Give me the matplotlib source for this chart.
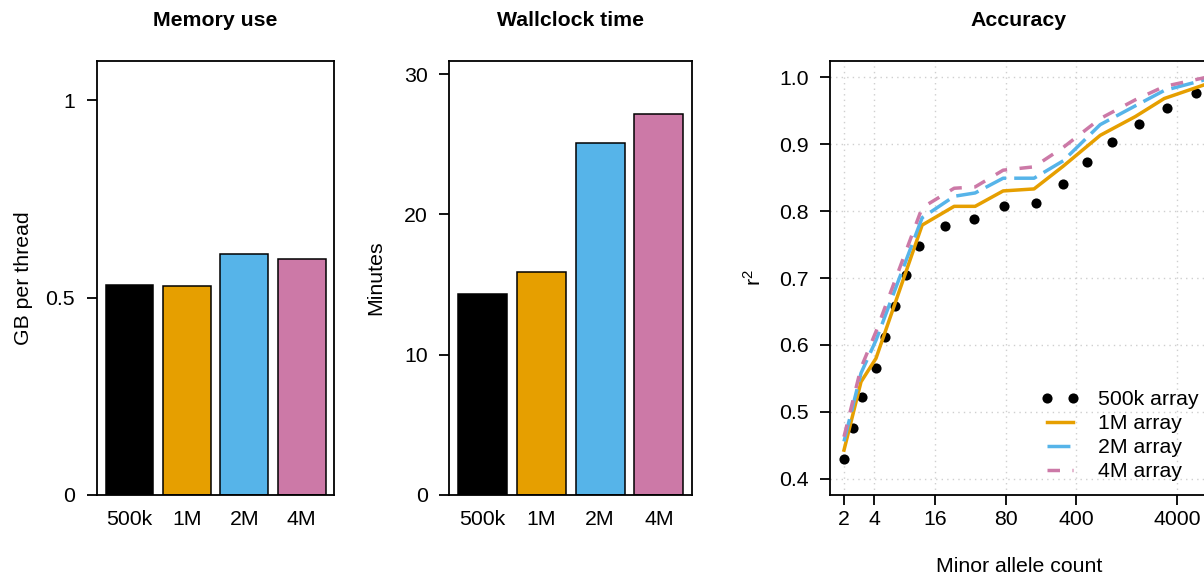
import matplotlib
matplotlib.use('Agg')
import matplotlib.pyplot as plt
from matplotlib.ticker import FixedLocator, NullLocator

plt.rcParams['font.family'] = ['Liberation Sans', 'DejaVu Sans']
plt.rcParams['mathtext.default'] = 'regular'

# ---------------- data ----------------
arrays = ['500k', '1M', '2M', '4M']
colors = ['#000000', '#E69F00', '#56B4E9', '#CC79A7']
memory_gb = [0.531, 0.529, 0.610, 0.599]
wallclock_min = [14.32, 15.87, 25.07, 27.14]

# Accuracy panel: 500k array (points)
mac_500k = [2, 2.47, 3.02, 4.15, 5.1, 6.37, 8.24, 11.2, 19.9, 39.2, 77.8,
            160.6, 293, 509, 912, 1690, 3206, 6220]
r2_500k = [0.430, 0.476, 0.5225, 0.566, 0.6125, 0.658, 0.704, 0.7475, 0.777,
           0.788, 0.807, 0.812, 0.841, 0.873, 0.903, 0.930, 0.954, 0.9756]

# Accuracy panel: 1M/2M/4M arrays (lines)
mac_lines = [2, 2.95, 4.15, 11.9, 24.7, 39.9, 75.6, 153, 298, 693, 1542, 2990, 7990]
r2_1M = [0.443, 0.545, 0.580, 0.779, 0.807, 0.807, 0.830, 0.833, 0.867, 0.913, 0.941, 0.968, 0.990]
r2_2M = [0.456, 0.558, 0.607, 0.790, 0.822, 0.827, 0.849, 0.849, 0.875, 0.929, 0.957, 0.980, 0.997]
r2_4M = [0.463, 0.566, 0.620, 0.805, 0.834, 0.836, 0.861, 0.866, 0.895, 0.938, 0.966, 0.986, 1.000]

x_ticks = [2, 4, 16, 80, 400, 4000]
y_ticks_acc = [0.4, 0.5, 0.6, 0.7, 0.8, 0.9, 1.0]

# ---------------- layout ----------------
W, H = 1204, 577
FS = 15.3
fig = plt.figure(figsize=(W / 100, H / 100), dpi=100)


def rect(l, r, t=61, b=495):
    return [l / W, 1 - b / H, (r - l) / W, (b - t) / H]


ax1 = fig.add_axes(rect(96.7, 334.3))
ax2 = fig.add_axes(rect(449.3, 692.3))
ax3 = fig.add_axes(rect(830, 1208))

for ax in (ax1, ax2, ax3):
    for s in ax.spines.values():
        s.set_linewidth(1.3)
    ax.tick_params(axis='y', labelsize=FS, length=7.5, width=1.3, pad=8)


def bar_panel(ax, values, ymax, yticks, yticklabels, title, ylabel, ylab_x):
    pos = [0.7 + 1.2 * i for i in range(len(arrays))]
    ax.bar(pos, values, width=1.0, color=colors, edgecolor='black', linewidth=1.1)
    ax.set_xlim(0.016, 4.984)
    ax.set_ylim(0, ymax)
    ax.set_xticks(pos)
    ax.set_xticklabels(arrays)
    ax.tick_params(axis='x', labelsize=FS, length=0, pad=10.8)
    ax.set_yticks(yticks)
    ax.set_yticklabels(yticklabels)
    ax.set_title(title, fontweight='bold', fontsize=FS, y=1.094, va='center', pad=0)
    ax.set_ylabel(ylabel, fontsize=FS, va='center')
    ax.yaxis.set_label_coords(ylab_x, 0.5)


bar_panel(ax1, memory_gb, 1.1, [0, 0.5, 1], ['0', '0.5', '1'],
          'Memory use', 'GB per thread', -0.310)
bar_panel(ax2, wallclock_min, 30.94, [0, 10, 20, 30], ['0', '10', '20', '30'],
          'Wallclock time', 'Minutes', -0.3016)

# Accuracy panel
ax3.set_xscale('log')
ax3.set_xlim(1.453, 8110)
ax3.set_ylim(0.376, 1.024)
ax3.xaxis.set_major_locator(FixedLocator(x_ticks))
ax3.xaxis.set_minor_locator(NullLocator())
ax3.set_xticklabels([str(v) for v in x_ticks])
ax3.set_yticks(y_ticks_acc)
ax3.set_yticklabels(['%.1f' % v for v in y_ticks_acc])
ax3.tick_params(axis='x', labelsize=FS, length=7.5, width=1.3, pad=3.1)
ax3.grid(True, which='major', color='#cfcfcf', linestyle=(0, (1, 3)), linewidth=1.0)
ax3.set_axisbelow(True)

lw = 2.5
ax3.plot(mac_500k, r2_500k, linestyle='none', marker='o', color='black',
         markersize=7.3, markeredgewidth=0, label='500k array')
ax3.plot(mac_lines, r2_1M, color=colors[1], lw=lw, label='1M array')
l2, = ax3.plot(mac_lines, r2_2M, color=colors[2], lw=lw, label='2M array',
               dash_capstyle='butt')
l2.set_dashes((6.6, 2.3))
l4, = ax3.plot(mac_lines, r2_4M, color=colors[3], lw=lw, label='4M array',
               dash_capstyle='butt')
l4.set_dashes((3.6, 3.6))

ax3.set_title('Accuracy', fontweight='bold', fontsize=FS, y=1.094, va='center', pad=0)
ax3.set_xlabel('Minor allele count', fontsize=FS, va='center')
ax3.xaxis.set_label_coords(0.5, -0.1636)
ax3.set_ylabel(r'$r^2$', fontsize=FS, va='center')
ax3.yaxis.set_label_coords(-0.201, 0.5)

ax3.legend(loc='upper left', bbox_to_anchor=(0.558, 0.242), frameon=False,
           fontsize=FS, numpoints=2, handlelength=1.83, handletextpad=0.85,
           labelspacing=0.24, borderpad=0, borderaxespad=0)

fig.savefig('out.png', dpi=100)
